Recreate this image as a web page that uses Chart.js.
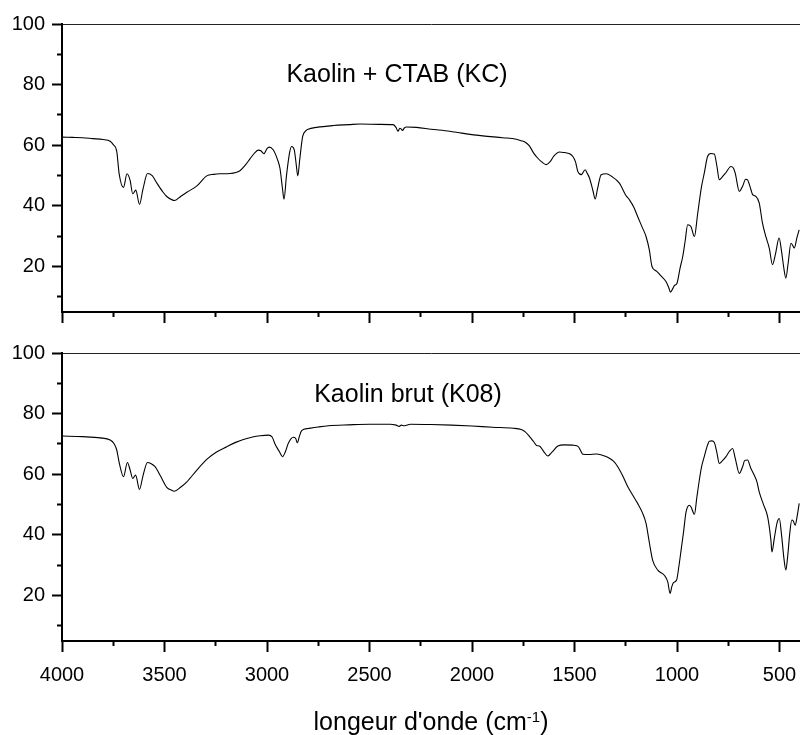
<!DOCTYPE html>
<html>
<head>
<meta charset="utf-8">
<script src="https://cdn.jsdelivr.net/npm/chart.js@4.4.1/dist/chart.umd.min.js"></script>
<style>
  html, body { margin: 0; padding: 0; background: #fff; }
  #wrap { position: relative; width: 800px; height: 735px; overflow: hidden;
          font-family: "Liberation Sans", Arial, sans-serif; color: #000; }
  canvas { position: absolute; left: 0; }
  #topChart { top: 0; }
  #botChart { top: 335px; }
  .lbl { position: absolute; font-size: 25px; line-height: 25px; white-space: nowrap;
         transform: translateX(-50%); }
  .lbl sup { font-size: 15px; line-height: 0; vertical-align: 8px; }
</style>
</head>
<body>
<div id="wrap">
  <canvas id="topChart" width="800" height="335"></canvas>
  <canvas id="botChart" width="800" height="400"></canvas>
  <div class="lbl" style="left:397px; top:61px;">Kaolin + CTAB (KC)</div>
  <div class="lbl" style="left:408px; top:381px;">Kaolin brut (K08)</div>
  <div class="lbl" style="left:431px; top:709px;">longeur d'onde (cm<sup>-1</sup>)</div>
</div>
<script>
// Kaolin + CTAB (KC) - top panel
const kcWave = [4000, 3950, 3900, 3850, 3800, 3765, 3750, 3733, 3721, 3700, 3683, 3668, 3655, 3640, 3622, 3605,
  3583, 3560, 3537, 3510, 3489, 3460, 3450, 3420, 3391, 3342, 3294, 3260, 3229, 3180, 3132, 3105, 3083, 3060,
  3042, 3030, 3015, 3000, 2989, 2970, 2950, 2937, 2925, 2917, 2905, 2890, 2880, 2867, 2858, 2850, 2840, 2826,
  2810, 2799, 2758, 2677, 2600, 2547, 2450, 2385, 2370, 2361, 2352, 2346, 2339, 2330, 2320, 2271, 2200, 2109,
  2050, 1947, 1850, 1784, 1760, 1740, 1720, 1700, 1680, 1660, 1638, 1620, 1600, 1573, 1550, 1524, 1508, 1495,
  1484, 1467, 1448, 1440, 1427, 1410, 1399, 1388, 1370, 1345, 1320, 1281, 1250, 1232, 1210, 1192, 1170, 1151,
  1135, 1122, 1100, 1078, 1053, 1040, 1032, 1020, 1013, 1000, 985, 972, 960, 948, 932, 915, 900, 891, 880, 867,
  851, 835, 818, 805, 794, 780, 761, 737, 725, 716, 696, 680, 665, 656, 640, 631, 615, 599, 583, 565, 550, 534,
  520, 502, 490, 480, 469, 458, 444, 436, 428, 415, 404];
const kcT = [62.7, 62.6, 62.5, 62.2, 61.9, 61.3, 60.2, 58.0, 50.5, 46.1, 50.6, 48.5, 44.0, 45.2, 40.5, 45.5,
  50.7, 50.0, 47.5, 44.8, 43.1, 41.9, 41.8, 43.2, 44.5, 46.6, 49.9, 50.4, 50.6, 50.7, 51.6, 53.5, 55.5, 57.5,
  58.4, 58.2, 57.2, 58.9, 59.4, 58.5, 55.5, 52.5, 46.0, 42.2, 50.0, 57.5, 59.6, 58.5, 54.0, 49.9, 55.5, 62.9,
  64.8, 65.3, 65.9, 66.5, 66.8, 67.0, 66.9, 66.8, 65.8, 64.6, 65.6, 65.4, 64.9, 65.7, 66.0, 65.9, 65.3, 64.6,
  64.0, 63.1, 62.5, 62.0, 61.5, 61.0, 59.8, 57.5, 55.8, 54.5, 53.6, 54.5, 56.5, 57.8, 57.6, 57.2, 56.3, 54.5,
  51.4, 50.3, 51.9, 51.0, 49.2, 45.0, 42.3, 45.5, 50.3, 50.6, 49.8, 47.5, 43.5, 42.0, 39.5, 36.5, 33.0, 29.9,
  25.5, 20.0, 18.5, 16.9, 15.0, 13.0, 11.5, 12.8, 13.7, 14.5, 19.5, 23.3, 28.5, 33.8, 33.2, 29.9, 37.0, 41.5, 46.5, 50.8,
  56.3, 57.3, 57.1, 53.0, 48.6, 49.5, 51.0, 53.0, 52.5, 50.8, 44.8, 46.5, 48.8, 48.6, 45.5, 43.7, 43.1, 41.0, 34.3, 29.5, 26.1, 20.6,
  24.0, 29.4, 25.0, 20.0, 16.2, 21.0, 27.7, 27.0, 26.1, 29.5, 32.1];

// Kaolin brut (K08) - bottom panel
const k08Wave = [4000, 3900, 3813, 3765, 3745, 3733, 3720, 3700, 3681, 3668, 3655, 3641, 3622, 3605, 3583, 3565,
  3546, 3520, 3489, 3465, 3452, 3420, 3391, 3342, 3294, 3250, 3196, 3150, 3115, 3070, 3034, 2994, 2975, 2961,
  2940, 2924, 2910, 2896, 2872, 2860, 2852, 2842, 2831, 2799, 2750, 2700, 2600, 2500, 2400, 2370, 2355, 2345,
  2330, 2300, 2200, 2100, 2000, 1900, 1800, 1760, 1740, 1720, 1700, 1685, 1671, 1650, 1630, 1610, 1581, 1550,
  1508, 1490, 1479, 1468, 1460, 1430, 1394, 1365, 1338, 1310, 1289, 1265, 1240, 1215, 1192, 1170, 1151, 1135,
  1119, 1094, 1062, 1045, 1034, 1025, 1018, 1002, 990, 980, 968, 956, 940, 932, 915, 903, 891, 880, 867, 855,
  842, 830, 818, 805, 794, 778, 761, 745, 729, 715, 696, 680, 670, 656, 640, 623, 610, 599, 578, 558, 542, 537,
  525, 512, 501, 490, 478, 469, 460, 450, 440, 432, 424, 413, 404];
const k08T = [72.6, 72.4, 72.0, 71.3, 70.0, 68.0, 63.5, 59.2, 63.9, 61.5, 58.6, 59.7, 55.0, 59.5, 63.9, 63.5,
  62.5, 59.5, 55.7, 54.7, 54.4, 55.8, 57.5, 61.4, 64.9, 67.2, 69.1, 70.6, 71.5, 72.3, 72.7, 72.9, 72.3, 70.0,
  67.5, 65.8, 67.5, 70.2, 72.2, 71.8, 70.4, 72.5, 74.4, 75.1, 75.6, 76.0, 76.3, 76.5, 76.5, 76.2, 75.8, 76.2,
  76.0, 76.5, 76.4, 76.2, 75.9, 75.5, 75.2, 74.8, 74.0, 72.5, 70.8, 69.5, 69.3, 67.5, 66.0, 67.3, 69.3, 69.7,
  69.6, 69.4, 68.9, 67.5, 66.6, 66.5, 66.7, 66.3, 65.6, 64.3, 62.5, 59.5, 55.9, 53.0, 50.4, 47.5, 43.8, 37.5,
  31.7, 28.4, 26.7, 24.5, 20.7, 23.0, 24.2, 25.1, 30.0, 35.0, 41.0, 47.5, 49.8, 49.3, 46.8, 52.5, 58.1, 62.5, 65.8, 68.8,
  70.9, 71.0, 70.5, 67.0, 63.6, 64.5, 65.8, 67.5, 68.5, 65.0, 60.3, 62.5, 64.5, 64.7, 62.0, 59.7, 57.5, 54.2, 50.0, 46.0, 38.3, 34.4,
  39.0, 44.0, 45.4, 40.0, 32.0, 28.4, 33.0, 40.5, 44.9, 44.5, 43.2, 46.5, 50.4];

// axes
const xMajorTicks = [4000, 3500, 3000, 2500, 2000, 1500, 1000, 500];
const xMinorTicks = [3750, 3250, 2750, 2250, 1750, 1250, 750];
const yMajorTicks = [20, 40, 60, 80, 100];
const yMinorTicks = [10, 30, 50, 70, 90];
const xMin = 400, xMax = 4000;
const yMin = 5, yMax = 100;

const fontFamily = '"Liberation Sans", Arial, sans-serif';

function setTicks(list) {
    return scale => { scale.ticks = list.map(v => ({ value: v })); };
}

function makeChart(id, wave, trans, showLabels, padTop, xHeight) {
    const ctx = document.getElementById(id).getContext('2d');
    return new Chart(ctx, {
        type: 'line',
        data: {
            datasets: [{
                data: wave.map((w, i) => ({ x: w, y: trans[i] })),
                borderColor: '#000',
                borderWidth: 1.1,
                pointRadius: 0,
                cubicInterpolationMode: 'monotone',
                xAxisID: 'x',
                yAxisID: 'y'
            }]
        },
        options: {
            responsive: false,
            animation: false,
            events: [],
            layout: { padding: { top: padTop, left: 0, right: 0, bottom: 0 } },
            plugins: { legend: { display: false }, tooltip: { enabled: false } },
            scales: {
                x: {
                    type: 'linear', position: 'bottom', reverse: true, min: xMin, max: xMax, weight: 1,
                    afterBuildTicks: setTicks(xMajorTicks),
                    afterFit: s => { s.height = xHeight; s.paddingLeft = 0; s.paddingRight = 0; },
                    border: { display: true, color: '#000', width: 2 },
                    grid: { drawOnChartArea: false, drawTicks: true, tickLength: 11, tickWidth: 2, tickColor: '#000' },
                    ticks: { display: showLabels, padding: 11, color: '#000', maxRotation: 0, autoSkip: false,
                             font: { family: fontFamily, size: 20 }, callback: v => String(v) }
                },
                xMinor: {
                    type: 'linear', position: 'bottom', reverse: true, min: xMin, max: xMax, weight: 0,
                    afterBuildTicks: setTicks(xMinorTicks),
                    afterFit: s => { s.height = 0; s.paddingLeft = 0; s.paddingRight = 0; },
                    border: { display: false },
                    grid: { drawOnChartArea: false, tickLength: 5, tickWidth: 2, tickColor: '#000' },
                    ticks: { display: false }
                },
                y: {
                    type: 'linear', position: 'left', min: yMin, max: yMax, weight: 1,
                    afterBuildTicks: setTicks(yMajorTicks),
                    afterFit: s => { s.width = 62; s.paddingTop = 0; s.paddingBottom = 0; },
                    border: { display: true, color: '#000', width: 2 },
                    grid: {
                        color: c => (c.tick && c.tick.value === 100) ? '#222' : 'rgba(0,0,0,0)',
                        lineWidth: 1, tickLength: 10, tickWidth: 2, tickColor: '#000'
                    },
                    ticks: { padding: 7, color: '#000', font: { family: fontFamily, size: 20 },
                             callback: v => String(v) }
                },
                yMinor: {
                    type: 'linear', position: 'left', min: yMin, max: yMax, weight: 0,
                    afterBuildTicks: setTicks(yMinorTicks),
                    afterFit: s => { s.width = 0; s.paddingTop = 0; s.paddingBottom = 0; },
                    border: { display: false },
                    grid: { drawOnChartArea: false, tickLength: 5, tickWidth: 2, tickColor: '#000' },
                    ticks: { display: false }
                }
            }
        }
    });
}

makeChart('topChart', kcWave, kcT, false, 24, 23);
makeChart('botChart', k08Wave, k08T, true, 18, 94);
</script>
</body>
</html>
